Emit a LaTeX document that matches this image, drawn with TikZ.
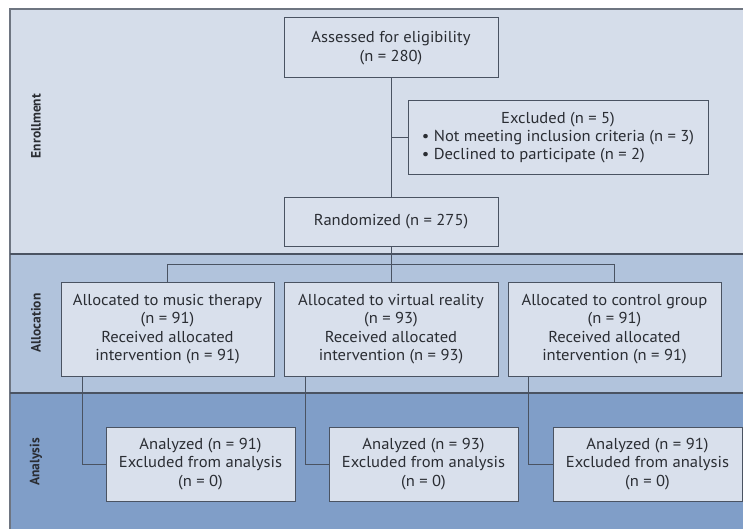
\documentclass[tikz,border=0pt]{standalone}
\usepackage{fontspec}
\setmainfont[FakeStretch=1.05]{PT Sans}
\newfontfamily\phasefont{PT Sans}
\usetikzlibrary{positioning,calc}

\definecolor{bandA}{HTML}{D5DDEA}
\definecolor{bandB}{HTML}{B1C3DC}
\definecolor{bandC}{HTML}{809EC8}
\definecolor{boxfill}{HTML}{D9E0EC}
\definecolor{linecol}{HTML}{4A5362}
\definecolor{txtcol}{HTML}{2A2D33}

\begin{document}
\begin{tikzpicture}[
    x=1pt, y=-1pt,
    box/.style={rectangle, draw=linecol, line width=1pt, fill=boxfill, text=txtcol, align=center, inner sep=0pt,
        font=\fontsize{15.8}{18.3}\selectfont},
    phase/.style={rotate=90, text=txtcol, font=\phasefont\fontsize{13.5}{15}\selectfont\bfseries},
    link/.style={draw=linecol, line width=1pt}
]
    \useasboundingbox (0,0) rectangle (743,529);
    \fill[white] (0,0) rectangle (743,529);

    % Phases
    \fill[bandA] (10,9) rectangle (743,254);
    \fill[bandB] (10,254) rectangle (743,393);
    \fill[bandC] (10,393) rectangle (743,529);
    \draw[linecol!80, line width=1.5pt] (10,529) -- (10,9) -- (743,9);
    \draw[linecol, line width=1.3pt] (10,254) -- (743,254);
    \draw[linecol, line width=1.3pt] (10,393) -- (743,393);

    \node[phase] (enrol) at (36,126) {Enrollment};
    \node[phase] (alloc) at (36,323) {Allocation};
    \node[phase] (anal) at (36,462) {Analysis};

    % Enrollment
    \node[box, minimum width=214pt, minimum height=60pt] (assess) at (391,48) {Assessed for eligibility\\(n = 280)};
    \node[box, minimum width=300pt, minimum height=74pt] (excl) at (558,138) {%
        \begin{tabular}{@{}l@{}}\multicolumn{1}{@{}c@{}}{Excluded (n = 5)}\\
        \textbullet\ Not meeting inclusion criteria (n = 3)\\
        \textbullet\ Declined to participate (n = 2)\end{tabular}};
    \node[box, minimum width=214pt, minimum height=48pt] (rand) at (391,222) {Randomized (n = 275)};

    % Allocation
    \node[box, minimum width=213pt, minimum height=94pt] (music) at (167.5,329) {Allocated to music therapy\\(n = 91)\\Received allocated\\intervention (n = 91)};
    \node[box, minimum width=214pt, minimum height=94pt] (vr) at (391,329) {Allocated to virtual reality\\(n = 93)\\Received allocated\\intervention (n = 93)};
    \node[box, minimum width=213pt, minimum height=94pt] (ctrl) at (614.5,329) {Allocated to control group\\(n = 91)\\Received allocated\\intervention (n = 91)};

    % Analysis
    \node[box, minimum width=189pt, minimum height=74pt] (musicA) at (200.5,464) {Analyzed (n = 91)\\Excluded from analysis\\(n = 0)};
    \node[box, minimum width=189pt, minimum height=74pt] (vrA) at (423.5,464) {Analyzed (n = 93)\\Excluded from analysis\\(n = 0)};
    \node[box, minimum width=189pt, minimum height=74pt] (ctrlA) at (647.5,464) {Analyzed (n = 91)\\Excluded from analysis\\(n = 0)};

    % Links
    \draw[link] (assess.south) -- (rand.north);
    \draw[link] (assess.south |- excl.west) -- (excl.west);
    \coordinate (split) at ($(rand.south)+(0,18)$);
    \draw[link] (rand.south) -- (split);
    \draw[link] (music.north) |- (split) -| (ctrl.north);
    \draw[link] (split) -- (vr.north);

    \draw[link] ($(music.south west)+(22,0)$) |- (musicA.west);
    \draw[link] ($(vr.south west)+(22,0)$) |- (vrA.west);
    \draw[link] ($(ctrl.south west)+(21,0)$) |- (ctrlA.west);

\end{tikzpicture}
\end{document}
